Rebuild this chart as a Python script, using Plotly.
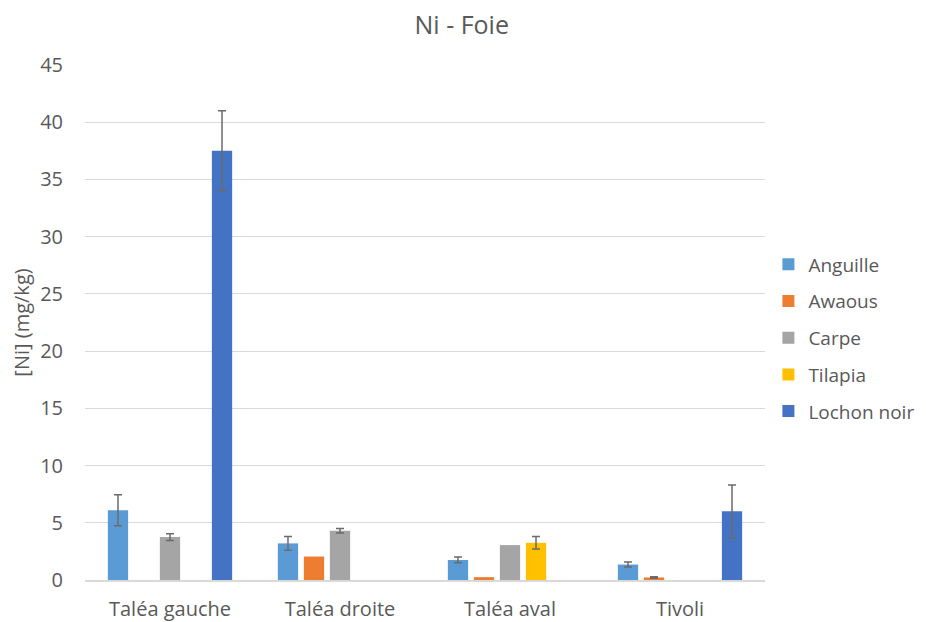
import plotly.graph_objects as go

sites = ["Taléa gauche", "Taléa droite", "Taléa aval", "Tivoli"]
species = ["Anguille", "Awaous", "Carpe", "Tilapia", "Lochon noir"]
colors = ["#5B9BD5", "#ED7D31", "#A5A5A5", "#FFC000", "#4472C4"]

anguille = [6.1, 3.2, 1.75, 1.35]
anguille_err = [1.35, 0.6, 0.25, 0.22]
awaous = [None, 2.05, 0.25, 0.22]
awaous_err = [None, None, None, 0.07]
carpe = [3.75, 4.3, 3.05, None]
carpe_err = [0.3, 0.2, None, None]
tilapia = [None, None, 3.25, None]
tilapia_err = [None, None, 0.55, None]
lochon = [37.5, None, None, 6.0]
lochon_err = [3.5, None, None, 2.3]

values = [anguille, awaous, carpe, tilapia, lochon]
errors = [anguille_err, awaous_err, carpe_err, tilapia_err, lochon_err]

fig = go.Figure()
for name, v, e, c in zip(species, values, errors, colors):
    # visible bars
    fig.add_trace(go.Bar(
        x=sites, y=v, name=name, legendgroup=name, offsetgroup=name,
        marker=dict(color=c, line=dict(width=0)),
    ))
for name, v, e, c in zip(species, values, errors, colors):
    # transparent overlay carrying only the error bars that exist
    ve = [val if err is not None else None for val, err in zip(v, e)]
    fig.add_trace(go.Bar(
        x=sites, y=ve, name=name, legendgroup=name, offsetgroup=name, showlegend=False,
        marker=dict(color="rgba(0,0,0,0)", line=dict(width=0)), hoverinfo="skip",
        error_y=dict(type="data", array=[err if err is not None else 0 for err in e],
                     visible=True, color="#6b6b6b", thickness=1.5, width=4),
    ))

font_family = "Open Sans, Liberation Sans, sans-serif"
fig.update_layout(
    width=926, height=622,
    barmode="group", bargap=0.235, bargroupgap=0.22,
    paper_bgcolor="white", plot_bgcolor="white",
    margin=dict(l=77, r=169, t=57, b=50, autoexpand=False),
    title=dict(text="Ni - Foie", x=0.490, xanchor="center", y=0.972, yanchor="middle",
               font=dict(family=font_family, size=25, color="#595959")),
    font=dict(family=font_family, color="#595959", size=20),
    legend=dict(x=1.005, y=0.47, xanchor="left", yanchor="middle",
                font=dict(size=19, color="#595959"), tracegroupgap=9, itemwidth=30),
    showlegend=True,
)
fig.update_yaxes(range=[0, 45], dtick=5, showgrid=True, gridcolor="#d9d9d9", gridwidth=1,
                 zeroline=False, showline=False, ticks="", ticklabelstandoff=21,
                 tickfont=dict(size=20, color="#595959"),
                 title=dict(text="[Ni] (mg/kg)", font=dict(size=20, color="#595959"), standoff=12))
fig.update_xaxes(showline=True, linecolor="#d9d9d9", linewidth=1.5, ticks="", ticklabelstandoff=10,
                 tickfont=dict(size=20, color="#595959"))

fig.write_html("out.html")
